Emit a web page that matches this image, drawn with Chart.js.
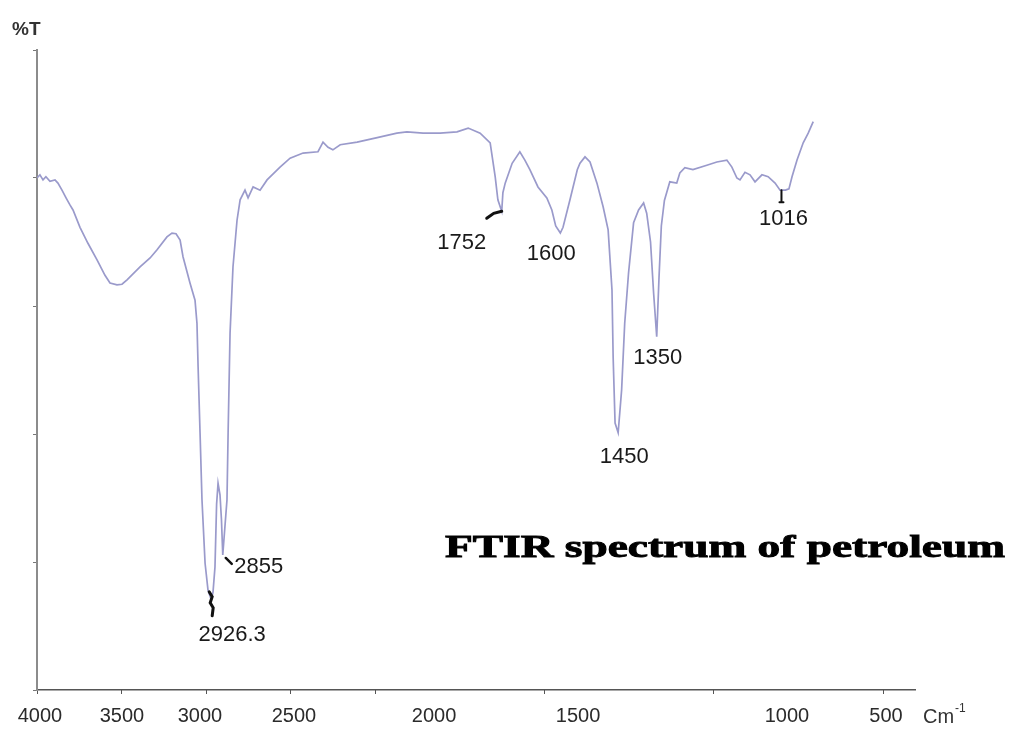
<!doctype html>
<html lang="en">
<head>
<meta charset="utf-8">
<title>FTIR spectrum of petroleum</title>
<script src="https://cdn.jsdelivr.net/npm/chart.js"></script>
<style>
  html,body{margin:0;padding:0;background:#fff}
  #wrap{width:1012px;height:732px}
</style>
</head>
<body>
<div id="wrap"><canvas id="chart" width="1012" height="732"></canvas></div>
<script>
/* ---------- spectrum (cm-1 / %T) ---------- */
const wavenumbers = [
  4000,3982,3963,3945,3920,3889,3871,3846,3821,3797,3778,3735,3686,3630,3581,3550,3507,3476,3445,3365,
  3303,3260,3199,3168,3143,3118,3100,3075,3057,3026,3014,3007,2995,2983,2964,2946,2926.3,2915,2903,2893,
  2884,2872,2863,2855,2829,2822,2810,2792,2767,2748,2718,2699,2668,2625,2582,2502,2440,2360,2268,2237,
  2206,2190,2171,2127,2075,2024,1998,1956,1912,1868,1839,1808,1782,1769,1762,1752,1749,1743,1725,1705,
  1692,1679,1658,1635,1622,1612,1600,1593,1575,1556,1549,1536,1523,1505,1489,1476,1466,1463,1458,1450,
  1441,1433,1423,1410,1397,1384,1376,1366,1358,1350,1344,1338,1330,1316,1298,1290,1277,1256,1220,1194,
  1168,1155,1142,1134,1121,1108,1095,1077,1061,1043,1030,1016,1007,999,986,970,957,944
];
const transmittance = [
  80.0,80.5,79.7,80.2,79.5,79.7,79.2,78.1,76.9,75.8,75.0,72.3,69.8,67.2,64.8,63.6,63.3,63.4,64.1,66.1,
  67.5,68.8,70.8,71.4,71.3,70.3,67.7,65.3,63.6,60.9,57.3,50.5,40.2,29.7,19.8,15.6,14.1,15.3,19.2,29.0,
  32.3,30.5,26.6,21.1,29.7,40.2,55.8,66.1,73.4,76.6,78.1,76.9,78.6,78.1,79.7,81.7,83.1,83.9,84.1,85.6,
  84.8,84.4,85.2,85.6,86.3,87.0,87.2,87.0,87.0,87.2,87.8,87.0,85.5,80.2,76.6,74.8,77.7,79.2,82.3,84.1,
  82.8,81.3,78.6,76.9,75.0,72.5,71.4,72.3,76.6,81.3,82.3,83.3,82.5,79.2,75.5,71.9,62.5,52.0,41.7,40.2,
  46.9,57.3,65.2,73.0,75.0,76.1,74.5,70.0,62.0,55.2,64.5,72.5,76.5,79.4,79.2,80.8,81.6,81.3,82.0,82.5,
  82.8,81.7,80.0,79.7,80.9,80.5,79.4,80.5,80.2,79.2,78.1,78.1,78.3,80.2,82.8,85.5,87.0,88.8
];

/* axis labels and marked peaks */
const tickValues = [4000,3500,3000,2500,2000,1500,1000,500];
const peakWavenumbers = [2926.3,2855,1752,1600,1450,1350,1016];
const peakTransmittance = [14.1,21.1,74.8,71.4,40.2,55.2,78.1];
const peakLabels = ['2926.3','2855','1752','1600','1450','1350','1016'];

/* ---------- piecewise wavenumber axis (FTIR scale expands below ~2000) ---------- */
// [value, fraction of axis width from the left]
const knots = {
  x:  [[4000,0],[2200,0.3326],[680,1]],
  xt: [[4000,0],[2000,0.385],[500,0.9636],[405,1]],
  xl: [[4018,0],[4000,0.0034],[3500,0.0968],[3000,0.1856],[2500,0.2927],[2000,0.4522],
       [1500,0.6162],[1000,0.8542],[500,0.9670],[354,1]]
};
function toFrac(k,v){
  for(let i=0;i<k.length-1;i++){
    const [v0,f0]=k[i],[v1,f1]=k[i+1];
    if(v>=v1||i===k.length-2) return f0+(v-v0)*(f1-f0)/(v1-v0);
  }
}
function fromFrac(k,f){
  for(let i=0;i<k.length-1;i++){
    const [v0,f0]=k[i],[v1,f1]=k[i+1];
    if(f<=f1||i===k.length-2) return v0+(f-f0)*(v1-v0)/(f1-f0);
  }
}
class PiecewiseScale extends Chart.LinearScale{
  getPixelForValue(v){return this.getPixelForDecimal(toFrac(knots[this.id],v));}
  getValueForPixel(p){return fromFrac(knots[this.id],this.getDecimalForPixel(p));}
}
PiecewiseScale.id='piecewise';
PiecewiseScale.defaults=Chart.LinearScale.defaults;
Chart.register(PiecewiseScale);

/* ---------- overlay text: %T, Cm-1, caption, peak labels ---------- */
const peakStyle=[
  {dx:21,dy:35,lead:'squiggle'},
  {dx:36,dy:12,lead:'tick'},
  {dx:-40,dy:32,lead:'hook'},
  {dx:-9,dy:21},
  {dx:6,dy:24},
  {dx:1,dy:21},
  {dx:-2,dy:29,lead:'bracket'}
];
const overlay={
  id:'overlay',
  afterDraw(chart){
    const ctx=chart.ctx, xs=chart.scales.x, ys=chart.scales.y, ca=chart.chartArea;
    ctx.save();
    // peak labels with their leader marks
    ctx.font='22px "Liberation Sans", Arial, sans-serif';
    ctx.textAlign='center'; ctx.textBaseline='middle';
    peakWavenumbers.forEach((w,i)=>{
      const px=xs.getPixelForValue(w), py=ys.getPixelForValue(peakTransmittance[i]);
      const st=peakStyle[i];
      ctx.strokeStyle='#111'; ctx.lineCap='round';
      ctx.beginPath();
      if(st.lead==='squiggle'){
        ctx.lineWidth=3;
        ctx.moveTo(px-2,py-8); ctx.lineTo(px+1,py-3); ctx.lineTo(px-1,py+3);
        ctx.lineTo(px+2,py+8); ctx.lineTo(px+1,py+16);
      }else if(st.lead==='tick'){
        ctx.lineWidth=2.5; ctx.moveTo(px+3,py+3); ctx.lineTo(px+9,py+9);
      }else if(st.lead==='hook'){
        ctx.lineWidth=3; ctx.moveTo(px-15,py+7); ctx.lineTo(px-8,py+2); ctx.lineTo(px,py);
      }else if(st.lead==='bracket'){
        ctx.lineWidth=2; ctx.moveTo(px-4,py); ctx.lineTo(px-4,py+12);
        ctx.moveTo(px-6,py+12); ctx.lineTo(px-2,py+12);
      }
      ctx.stroke();
      ctx.fillStyle='#1a1a1a';
      ctx.fillText(peakLabels[i],px+st.dx,py+st.dy);
    });
    // y axis title
    ctx.textAlign='left';
    ctx.fillStyle='#333';
    ctx.font='bold 19px "Liberation Sans", Arial, sans-serif';
    ctx.fillText('%T',ca.left-25,ca.top-20);
    // x axis unit
    ctx.font='20px "Liberation Sans", Arial, sans-serif';
    ctx.fillText('Cm',ca.right+8,ca.bottom+27);
    const cw=ctx.measureText('Cm').width;
    ctx.font='12px "Liberation Sans", Arial, sans-serif';
    ctx.fillText('-1',ca.right+9+cw,ca.bottom+19);
    // caption, stretched to the width it takes in the figure
    ctx.font='bold 31px "Liberation Serif", "Times New Roman", serif';
    ctx.fillStyle='#000'; ctx.strokeStyle='#000'; ctx.lineWidth=0.9;
    ctx.textBaseline='alphabetic';
    const cap='FTIR spectrum of petroleum';
    const w=ctx.measureText(cap).width;
    ctx.translate(445,557);
    ctx.scale(560/w,1);
    ctx.fillText(cap,0,0);
    ctx.strokeText(cap,0,0);
    ctx.restore();
  }
};

/* ---------- chart ---------- */
new Chart(document.getElementById('chart'),{
  type:'line',
  data:{datasets:[{
    data:wavenumbers.map((w,i)=>({x:w,y:transmittance[i]})),
    borderColor:'#9a9acb',borderWidth:1.7,pointRadius:0,tension:0,
    xAxisID:'x',yAxisID:'y'
  }]},
  options:{
    responsive:false,animation:false,
    layout:{padding:{top:50,right:97,left:0,bottom:0}},
    plugins:{legend:{display:false},tooltip:{enabled:false}},
    scales:{
      x:{type:'piecewise',position:'bottom',weight:0,min:680,max:4000,
         ticks:{display:false},grid:{display:false},
         border:{display:true,color:'#555',width:1.5},
         afterFit:s=>{s.height=0;}},
      xt:{type:'piecewise',position:'bottom',weight:1,min:405,max:4000,
          afterBuildTicks:s=>{s.ticks=tickValues.map(v=>({value:v}));},
          ticks:{display:false},
          grid:{drawOnChartArea:false,tickLength:4,color:'#555',lineWidth:1},
          border:{display:false},
          afterFit:s=>{s.height=0;}},
      xl:{type:'piecewise',position:'bottom',weight:2,min:354,max:4018,
          afterBuildTicks:s=>{s.ticks=tickValues.map(v=>({value:v}));},
          ticks:{autoSkip:false,maxRotation:0,padding:14,color:'#2b2b2b',
                 font:{family:'"Liberation Sans", Arial, sans-serif',size:20},
                 callback:v=>String(v)},
          grid:{display:false,drawTicks:false},
          border:{display:false},
          afterFit:s=>{s.height=42;}},
      y:{type:'linear',position:'left',min:0,max:100,
         ticks:{display:false,stepSize:20},
         grid:{drawOnChartArea:false,tickLength:4,color:'#777'},
         border:{color:'#8c8c8c',width:2},
         afterFit:s=>{s.width=37;}}
    }
  },
  plugins:[overlay]
});
</script>
</body>
</html>
